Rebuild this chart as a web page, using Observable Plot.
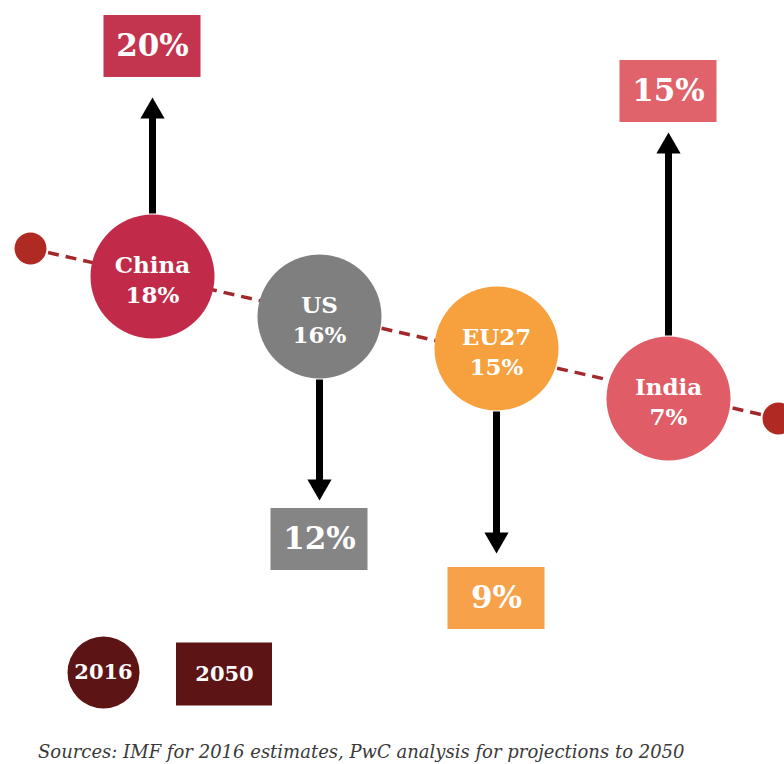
<!DOCTYPE html>
<html><head><meta charset="utf-8">
<script src="https://cdn.jsdelivr.net/npm/d3@7"></script>
<script src="https://cdn.jsdelivr.net/npm/@observablehq/plot@0.6"></script>
<style>
body{margin:0;background:#fff;overflow:hidden;}
#chart{width:784px;height:728px;}
#caption{font-family:"DejaVu Serif",serif;font-style:italic;font-size:18px;color:#3a3a3a;padding-left:38px;line-height:48px;height:36px;white-space:nowrap;}
</style></head><body>
<div id="chart"></div>
<div id="caption">Sources: IMF for 2016 estimates, PwC analysis for projections to 2050</div>
<script>
// ---- data ----
const countries = ["China", "US", "EU27", "India"];
const share2016 = [18, 16, 15, 7];
const share2050 = [20, 12, 9, 15];
const legendYears = ["2016", "2050"];

// ---- styles ----
const circleColors = ["#c12a48", "#7f7f7f", "#f6a03e", "#e05c66"];
const boxColors = ["#c3354e", "#858585", "#f7a24a", "#e0636b"];
const trendColor = "#a3282b";
const legendColor = "#5c1414";

// ---- layout (pixel units of the layout scales) ----
const cx = [152, 319, 496, 668];
const cy = [276, 316, 348, 398];
const boxY = [46, 539, 598, 91];
const tipY = [97, 500, 553, 132];
const trendX = [30, 778];
const trendY = [248, 418];
const legendX = [103, 224];
const legendY = [672, 674];
const R = 62, BW = 97, BH = 62;

const rows = countries.map((name, i) => {
  const dir = share2050[i] > share2016[i] ? -1 : 1;
  return {
    name, s16: share2016[i], s50: share2050[i], dir,
    x: cx[i], y: cy[i], by: boxY[i], tip: tipY[i],
    c: circleColors[i], bc: boxColors[i],
    start: cy[i] + dir * (R + 1),
    head: tipY[i] - dir * 14
  };
});
const ends = trendX.map((x, i) => ({x, y: trendY[i]}));
const legend = legendYears.map((t, i) => ({t, x: legendX[i], y: legendY[i]}));

const font = "DejaVu Serif";
const chart = Plot.plot({
  width: 784, height: 728, margin: 0,
  x: {type: "linear", domain: [0, 784], range: [0, 784], axis: null},
  y: {type: "linear", domain: [0, 728], range: [0, 728], axis: null},
  color: {type: "identity"},
  marks: [
    Plot.link([ends], {x1: d => d[0].x, y1: d => d[0].y, x2: d => d[1].x, y2: d => d[1].y,
      stroke: trendColor, strokeWidth: 3.5, strokeDasharray: "11,7"}),
    Plot.dot(ends, {x: "x", y: "y", r: 16, fill: "#b02a24"}),
    Plot.link(rows, {x1: "x", x2: "x", y1: "start", y2: "head", stroke: "black", strokeWidth: 7}),
    Plot.dot(rows, {x: "x", y: "head", symbol: "triangle", r: 9, fill: "black",
      rotate: d => d.dir < 0 ? 0 : 180}),
    Plot.dot(rows, {x: "x", y: "y", r: R, fill: "c"}),
    Plot.text(rows, {x: "x", y: d => d.y + 2, text: d => `${d.name}\n${d.s16}%`, fill: "white",
      fontSize: 23, fontWeight: "bold", fontFamily: font, lineHeight: 1.3}),
    Plot.rect(rows, {x1: d => d.x - BW / 2, x2: d => d.x + BW / 2, y1: d => d.by - BH / 2, y2: d => d.by + BH / 2, fill: "bc"}),
    Plot.text(rows, {x: "x", y: "by", text: d => `${d.s50}%`, fill: "white",
      fontSize: 31, fontWeight: "bold", fontFamily: font}),
    Plot.dot(legend.slice(0, 1), {x: "x", y: "y", r: 36, fill: legendColor}),
    Plot.rect(legend.slice(1), {x1: d => d.x - 48, x2: d => d.x + 48, y1: d => d.y - 31.5, y2: d => d.y + 31.5, fill: legendColor}),
    Plot.text(legend, {x: "x", y: "y", text: "t", fill: "white", fontSize: 21, fontWeight: "bold", fontFamily: font})
  ]
});
document.getElementById("chart").appendChild(chart);
</script>
</body></html>
